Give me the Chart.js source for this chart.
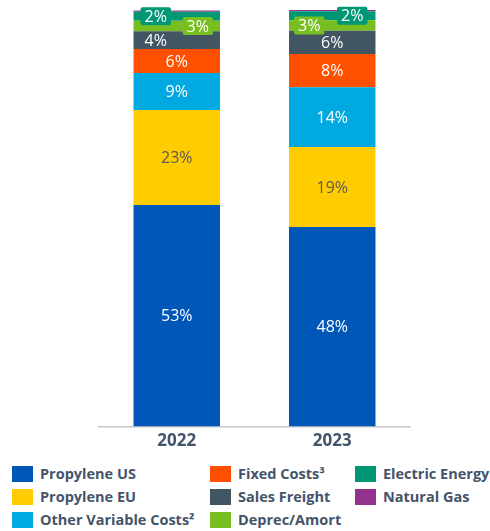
<!DOCTYPE html>
<html>
<head>
<meta charset="utf-8">
<script src="https://cdn.jsdelivr.net/npm/chart.js@4"></script>
<style>
  body { margin: 0; background: #fff; width: 490px; height: 531px; overflow: hidden; font-family: "Open Sans", sans-serif; }
  #wrap { position: relative; width: 490px; height: 531px; }
  #chart { position: absolute; left: 0; top: 0; }
  .lg { position: absolute; display: flex; align-items: center; font-weight: bold; font-size: 14.5px; color: #44546a; white-space: nowrap; }
  .lg span.box { display: inline-block; width: 21px; height: 16px; margin-right: 7px; }
</style>
</head>
<body>
<div id="wrap">
  <canvas id="chart" width="490" height="457"></canvas>
</div>
<script>
const years = ["2022", "2023"];
const series = ["Propylene US", "Propylene EU", "Other Variable Costs²", "Fixed Costs³", "Sales Freight", "Deprec/Amort", "Electric Energy", "Natural Gas"];
const colors = ["#0057b8", "#ffcc00", "#00a9e0", "#ff5000", "#425563", "#78be20", "#009775", "#93328e"];

// shares in % (labels show them rounded)
const propyleneUS = [53.4, 48.1];
const propyleneEU = [22.9, 19.3];
const otherVariable = [8.9, 14.4];
const fixedCosts = [5.8, 8.0];
const salesFreight = [4.3, 5.6];
const deprecAmort = [2.5, 2.5];
const electricEnergy = [2.2, 2.2];
const naturalGas = [0.3, 0.3];

const values = [propyleneUS, propyleneEU, otherVariable, fixedCosts, salesFreight, deprecAmort, electricEnergy, naturalGas];

// where the small labels sit (dataset index -> shift per year), boxed ones get a background
const shift = { 4: [-21, 0], 5: [21, -23], 6: [-21, 20] };
const boxed = [5, 6];

const segLabels = {
  id: "segLabels",
  afterDatasetsDraw(chart) {
    const ctx = chart.ctx;
    ctx.save();
    ctx.font = "16px 'Open Sans'";
    ctx.textAlign = "center";
    ctx.textBaseline = "middle";
    chart.data.datasets.forEach((ds, i) => {
      if (i === 7) return;
      chart.getDatasetMeta(i).data.forEach((bar, j) => {
        const x = bar.x + (shift[i] ? shift[i][j] : 0);
        const y = (bar.y + bar.base) / 2;
        const txt = Math.round(ds.data[j]) + "%";
        if (boxed.includes(i)) {
          const w = ctx.measureText(txt).width + 8;
          ctx.fillStyle = colors[i];
          ctx.beginPath();
          ctx.roundRect(x - w / 2, y - 9, w, 18, 2);
          ctx.fill();
        }
        ctx.fillStyle = i === 1 ? "#5a5a5a" : "#ffffff";
        ctx.fillText(txt, x, y + 1);
      });
    });
    ctx.restore();
  }
};

new Chart(document.getElementById("chart"), {
  type: "bar",
  data: {
    labels: years,
    datasets: series.map((name, i) => ({
      label: name,
      data: values[i],
      backgroundColor: colors[i],
      borderWidth: 0,
      categoryPercentage: 1,
      barPercentage: 0.556,
    })),
  },
  options: {
    responsive: false,
    animation: false,
    layout: { padding: { left: 99, right: 80, top: 10, bottom: 2 } },
    plugins: { legend: { display: false }, tooltip: { enabled: false } },
    scales: {
      x: {
        stacked: true,
        grid: { display: false, drawTicks: false },
        border: { display: true, color: "#c8c8c8", width: 1.5 },
        ticks: { color: "#44546a", padding: 4, font: { family: "'Open Sans'", size: 17, weight: "bold" } },
      },
      y: { stacked: true, display: false, min: 0, max: 100.4 },
    },
  },
  plugins: [segLabels],
});

// legend: three columns, filled top to bottom
const wrap = document.getElementById("wrap");
const colX = [12, 210, 355];
const rowY = [466, 489, 512];
series.forEach((name, i) => {
  const el = document.createElement("div");
  el.className = "lg";
  el.style.left = colX[Math.floor(i / 3)] + "px";
  el.style.top = (rowY[i % 3] - 2) + "px";
  el.innerHTML = '<span class="box" style="background:' + colors[i] + '"></span>' + name;
  wrap.appendChild(el);
});
</script>
</body>
</html>
